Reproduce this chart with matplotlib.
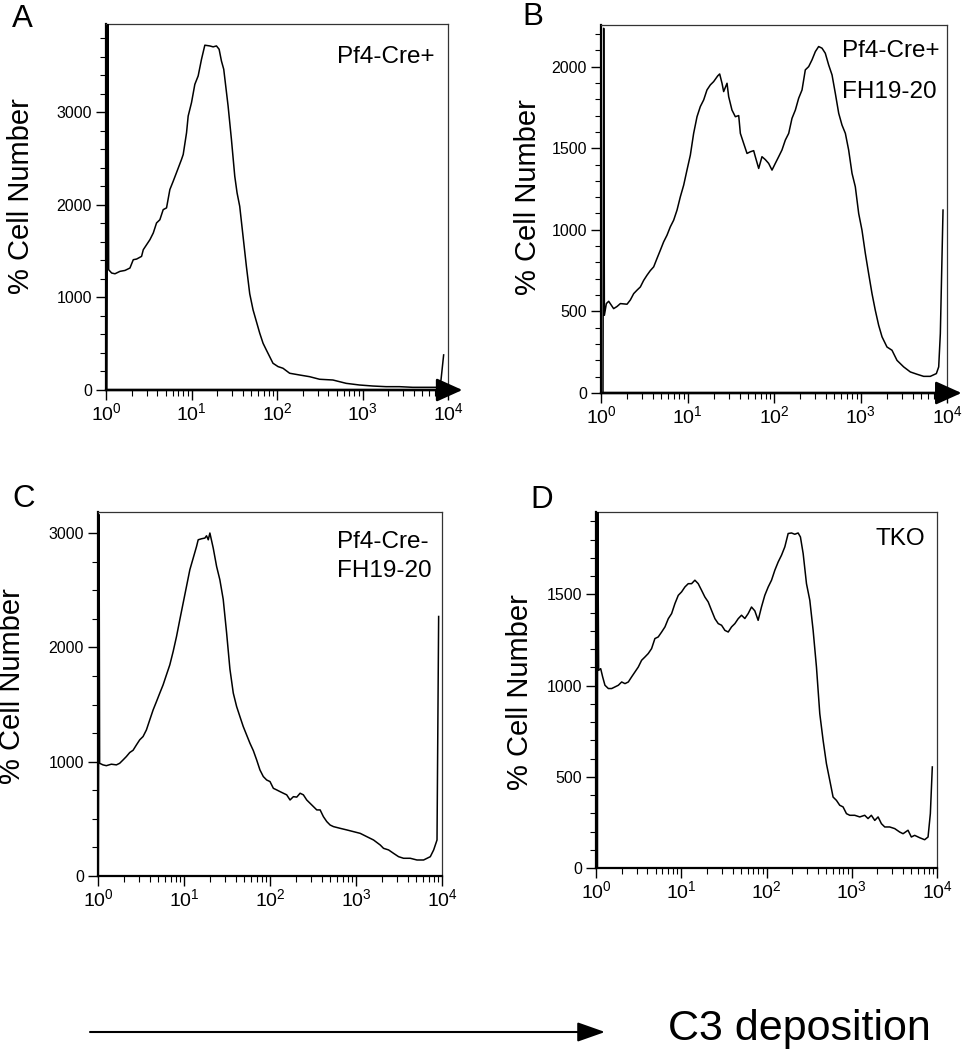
import numpy as np
import matplotlib
matplotlib.use("Agg")
import matplotlib.pyplot as plt
from matplotlib.ticker import MultipleLocator, LogLocator, NullFormatter
from matplotlib.patches import FancyArrowPatch

# ------------------------------------------------------------
#  style
# ------------------------------------------------------------
plt.rcParams.update({
    "font.family":       ["Liberation Sans", "DejaVu Sans"],
    "mathtext.fontset":  "custom",
    "mathtext.rm":       "Liberation Sans",
    "mathtext.it":       "Liberation Sans:italic",
    "mathtext.bf":       "Liberation Sans:bold",
    "xtick.direction":   "out",
    "ytick.direction":   "out",
    "xtick.labelsize":   14,
    "ytick.labelsize":   11.5,
})

# ------------------------------------------------------------
#  DATA  (x = log10 fluorescence, y = cell count per channel)
# ------------------------------------------------------------
# A: Pf4-Cre+
a_log_fl = [0.010, 0.023, 0.031, 0.066, 0.105, 0.163, 0.222, 0.280, 0.319, 0.358,
            0.416, 0.436, 0.514, 0.553, 0.591, 0.630, 0.669, 0.708, 0.747, 0.786,
            0.825, 0.883, 0.903, 0.942, 0.961, 1.000, 1.039, 1.078, 1.117, 1.156,
            1.214, 1.253, 1.292, 1.323, 1.350, 1.377, 1.428, 1.467, 1.506, 1.533,
            1.564, 1.603, 1.642, 1.681, 1.720, 1.759, 1.798, 1.837, 1.875, 1.914,
            1.953, 2.012, 2.070, 2.148, 2.265, 2.381, 2.498, 2.654, 2.809, 2.965,
            3.121, 3.276, 3.432, 3.588, 3.743, 3.879, 3.918, 3.949]
a_count = [0, 3950, 1300, 1264, 1256, 1282, 1292, 1318, 1408, 1415,
           1444, 1516, 1625, 1697, 1805, 1840, 1949, 1968, 2166, 2256,
           2350, 2491, 2545, 2780, 2960, 3105, 3303, 3394, 3574, 3726,
           3718, 3708, 3718, 3682, 3556, 3466, 3069, 2708, 2310, 2130,
           1985, 1660, 1336, 1040, 866, 740, 614, 505, 433, 361,
           289, 253, 235, 181, 162, 144, 116, 108, 72, 54,
           43, 36, 36, 29, 29, 29, 108, 379]

# B: Pf4-Cre+ FH19-20
b_log_fl = [0.023, 0.031, 0.039, 0.062, 0.089, 0.146, 0.185, 0.224, 0.301, 0.339,
            0.378, 0.416, 0.455, 0.493, 0.532, 0.570, 0.609, 0.647, 0.686, 0.724,
            0.763, 0.801, 0.840, 0.879, 0.917, 0.956, 0.994, 1.033, 1.071, 1.110,
            1.148, 1.187, 1.225, 1.264, 1.302, 1.349, 1.372, 1.399, 1.418, 1.457,
            1.476, 1.514, 1.553, 1.592, 1.611, 1.649, 1.688, 1.726, 1.765, 1.784,
            1.823, 1.861, 1.900, 1.938, 1.977, 2.015, 2.054, 2.092, 2.131, 2.170,
            2.208, 2.247, 2.285, 2.324, 2.362, 2.401, 2.439, 2.478, 2.516, 2.555,
            2.593, 2.632, 2.671, 2.709, 2.748, 2.786, 2.825, 2.863, 2.902, 2.940,
            2.979, 3.017, 3.056, 3.094, 3.133, 3.171, 3.210, 3.249, 3.306, 3.364,
            3.422, 3.499, 3.576, 3.653, 3.730, 3.807, 3.877, 3.904, 3.923, 3.954]
b_count = [0, 2235, 476, 548, 562, 517, 530, 548, 544, 570,
           609, 630, 650, 690, 722, 750, 773, 824, 875, 926,
           967, 1018, 1059, 1121, 1202, 1274, 1366, 1458, 1591, 1693,
           1755, 1796, 1857, 1888, 1908, 1943, 1955, 1898, 1847, 1898,
           1816, 1734, 1693, 1700, 1591, 1530, 1468, 1478, 1485, 1448,
           1376, 1448, 1430, 1407, 1366, 1407, 1448, 1489, 1550, 1591,
           1683, 1734, 1806, 1857, 1980, 2000, 2041, 2092, 2123, 2113,
           2082, 2010, 1949, 1836, 1714, 1642, 1591, 1489, 1346, 1264,
           1100, 998, 855, 732, 609, 507, 415, 344, 282, 262,
           200, 160, 129, 115, 102, 102, 119, 160, 364, 1121]

# C: Pf4-Cre- FH19-20
c_log_fl = [0.004, 0.012, 0.019, 0.058, 0.097, 0.155, 0.214, 0.252, 0.291, 0.330,
            0.369, 0.408, 0.447, 0.485, 0.524, 0.563, 0.602, 0.641, 0.680, 0.718,
            0.757, 0.796, 0.835, 0.874, 0.913, 0.951, 0.990, 1.029, 1.068, 1.107,
            1.146, 1.165, 1.204, 1.243, 1.262, 1.282, 1.301, 1.340, 1.379, 1.417,
            1.456, 1.495, 1.534, 1.573, 1.612, 1.650, 1.689, 1.728, 1.767, 1.806,
            1.845, 1.883, 1.922, 1.961, 2.000, 2.039, 2.078, 2.117, 2.155, 2.194,
            2.233, 2.272, 2.311, 2.350, 2.388, 2.427, 2.466, 2.505, 2.544, 2.583,
            2.621, 2.660, 2.699, 2.738, 2.816, 2.893, 2.971, 3.049, 3.126, 3.204,
            3.282, 3.320, 3.379, 3.437, 3.495, 3.553, 3.631, 3.709, 3.786, 3.864,
            3.903, 3.942, 3.961]
c_count = [0, 3160, 986, 972, 965, 978, 972, 986, 1015, 1045,
           1080, 1100, 1147, 1191, 1220, 1278, 1366, 1453, 1526, 1599,
           1672, 1760, 1847, 1964, 2095, 2241, 2387, 2533, 2679, 2781,
           2883, 2941, 2950, 2956, 2976, 2941, 3000, 2868, 2708, 2591,
           2420, 2130, 1810, 1600, 1482, 1395, 1307, 1234, 1161, 1097,
           1015, 928, 870, 840, 826, 767, 753, 738, 724, 710,
           665, 694, 690, 724, 710, 665, 636, 607, 578, 578,
           519, 476, 446, 432, 417, 403, 388, 373, 344, 315,
           271, 242, 228, 198, 169, 155, 155, 140, 140, 169,
           228, 315, 2270]

# D: TKO
d_log_fl = [0.008, 0.012, 0.016, 0.020, 0.031, 0.055, 0.078, 0.105, 0.145, 0.184,
            0.223, 0.262, 0.301, 0.340, 0.379, 0.418, 0.457, 0.496, 0.535, 0.574,
            0.613, 0.652, 0.691, 0.730, 0.770, 0.809, 0.848, 0.887, 0.926, 0.965,
            1.004, 1.043, 1.082, 1.121, 1.160, 1.199, 1.238, 1.277, 1.316, 1.355,
            1.395, 1.434, 1.473, 1.512, 1.551, 1.590, 1.629, 1.668, 1.707, 1.746,
            1.785, 1.824, 1.863, 1.902, 1.941, 1.980, 2.020, 2.059, 2.098, 2.137,
            2.176, 2.215, 2.254, 2.293, 2.332, 2.371, 2.398, 2.430, 2.469, 2.508,
            2.547, 2.586, 2.625, 2.664, 2.703, 2.742, 2.781, 2.820, 2.859, 2.898,
            2.938, 2.977, 3.035, 3.094, 3.152, 3.191, 3.230, 3.270, 3.309, 3.348,
            3.387, 3.445, 3.504, 3.563, 3.602, 3.660, 3.699, 3.738, 3.797, 3.855,
            3.895, 3.922, 3.945]
d_count = [0, 1960, 0, 1960, 1084, 1093, 1048, 1002, 984, 984,
           993, 1002, 1020, 1011, 1020, 1048, 1075, 1102, 1139, 1157,
           1176, 1203, 1258, 1267, 1294, 1322, 1367, 1395, 1450, 1495,
           1514, 1541, 1559, 1559, 1578, 1559, 1523, 1486, 1459, 1413,
           1367, 1340, 1331, 1303, 1294, 1322, 1340, 1367, 1386, 1368,
           1395, 1431, 1410, 1358, 1431, 1495, 1541, 1578, 1633, 1678,
           1715, 1761, 1834, 1837, 1830, 1837, 1815, 1724, 1559, 1468,
           1303, 1102, 846, 700, 572, 481, 389, 371, 344, 335,
           298, 289, 289, 280, 289, 271, 289, 261, 280, 243,
           225, 225, 216, 197, 188, 207, 170, 179, 166, 155,
           170, 298, 554]

panel_letters = ["A", "B", "C", "D"]
y_label = "% Cell Number"
x_label = "C3 deposition"

# ------------------------------------------------------------
#  layout (figure in pixels: 964 x 1050)
# ------------------------------------------------------------
W, H = 964, 1050
fig = plt.figure(figsize=(W / 100, H / 100), dpi=100)


def px_rect(left, top, right, bottom):
    return [left / W, 1 - bottom / H, (right - left) / W, (bottom - top) / H]


def fx(x):
    return x / W


def fy(y):
    return 1 - y / H


def draw_panel(ax, log_fl, counts, ymax, major, minor, arrow):
    ax.plot(10 ** np.asarray(log_fl), counts, color="black", lw=1.1, zorder=3)
    ax.set_xscale("log")
    ax.set_xlim(1, 1e4)
    ax.set_ylim(0, ymax)
    ax.set_xticks([1, 10, 100, 1000, 10000])
    ax.xaxis.set_minor_locator(LogLocator(base=10, subs=np.arange(2, 10), numticks=20))
    ax.xaxis.set_minor_formatter(NullFormatter())
    ax.yaxis.set_major_locator(MultipleLocator(major))
    ax.yaxis.set_minor_locator(MultipleLocator(minor))
    ax.tick_params(which="major", length=7, width=1.0, pad=3)
    ax.tick_params(which="minor", length=4, width=0.8)
    ax.tick_params(axis="x", which="major", pad=2)
    for side in ("left", "bottom"):
        ax.spines[side].set_linewidth(1.6)
    for side in ("top", "right"):
        ax.spines[side].set_linewidth(0.9)
        ax.spines[side].set_color("#333333")
    if arrow:
        ax.annotate(
            "", xy=(1.042, 0), xytext=(0, 0), xycoords="axes fraction",
            arrowprops=dict(arrowstyle="-|>,head_length=0.8,head_width=0.36",
                            mutation_scale=20, color="black", lw=1.8,
                            shrinkA=0, shrinkB=0),
            annotation_clip=False, zorder=4,
        )


ax_a = fig.add_axes(px_rect(106, 24, 448, 390))
ax_b = fig.add_axes(px_rect(601, 25, 947, 393))
ax_c = fig.add_axes(px_rect(98, 512, 442, 876))
ax_d = fig.add_axes(px_rect(596, 512, 937, 868))

draw_panel(ax_a, a_log_fl, a_count, 3955, 1000, 200, True)
draw_panel(ax_b, b_log_fl, b_count, 2255, 500, 100, True)
draw_panel(ax_c, c_log_fl, c_count, 3184, 1000, 250, False)
draw_panel(ax_d, d_log_fl, d_count, 1952, 500, 100, False)

# sample annotations
txt = dict(fontsize=17.5, va="baseline")
ax_a.text(fx(435), fy(63), "Pf4-Cre+", ha="right", transform=fig.transFigure, **txt)
ax_b.text(fx(842), fy(57), "Pf4-Cre+", ha="left", transform=fig.transFigure, **txt)
ax_b.text(fx(842), fy(98), "FH19-20", ha="left", transform=fig.transFigure, **txt)
ax_c.text(fx(337), fy(548), "Pf4-Cre-", ha="left", transform=fig.transFigure, **txt)
ax_c.text(fx(337), fy(577), "FH19-20", ha="left", transform=fig.transFigure, **txt)
ax_d.text(fx(925), fy(545), "TKO", ha="right", transform=fig.transFigure, **txt)

# panel letters
for letter, (lx, ly) in zip(panel_letters, [(12, 27), (522, 25), (12, 507), (530, 508)]):
    fig.text(fx(lx), fy(ly), letter, fontsize=22.5, ha="left", va="baseline")

# y labels
for (cx, cy) in [(21, 196), (528, 197), (12, 686), (520, 692)]:
    fig.text(fx(cx), fy(cy), y_label, fontsize=21, rotation=90,
             ha="center", va="center")

# bottom arrow + axis title
fig.add_artist(FancyArrowPatch(
    (fx(90), fy(1032)), (fx(605), fy(1032)), transform=fig.transFigure,
    arrowstyle="-|>,head_length=0.85,head_width=0.3", mutation_scale=20,
    color="black", lw=1.5, shrinkA=0, shrinkB=0,
))
fig.text(fx(668), fy(1040), x_label, fontsize=31, ha="left", va="baseline")

fig.savefig("out.png", dpi=100)
